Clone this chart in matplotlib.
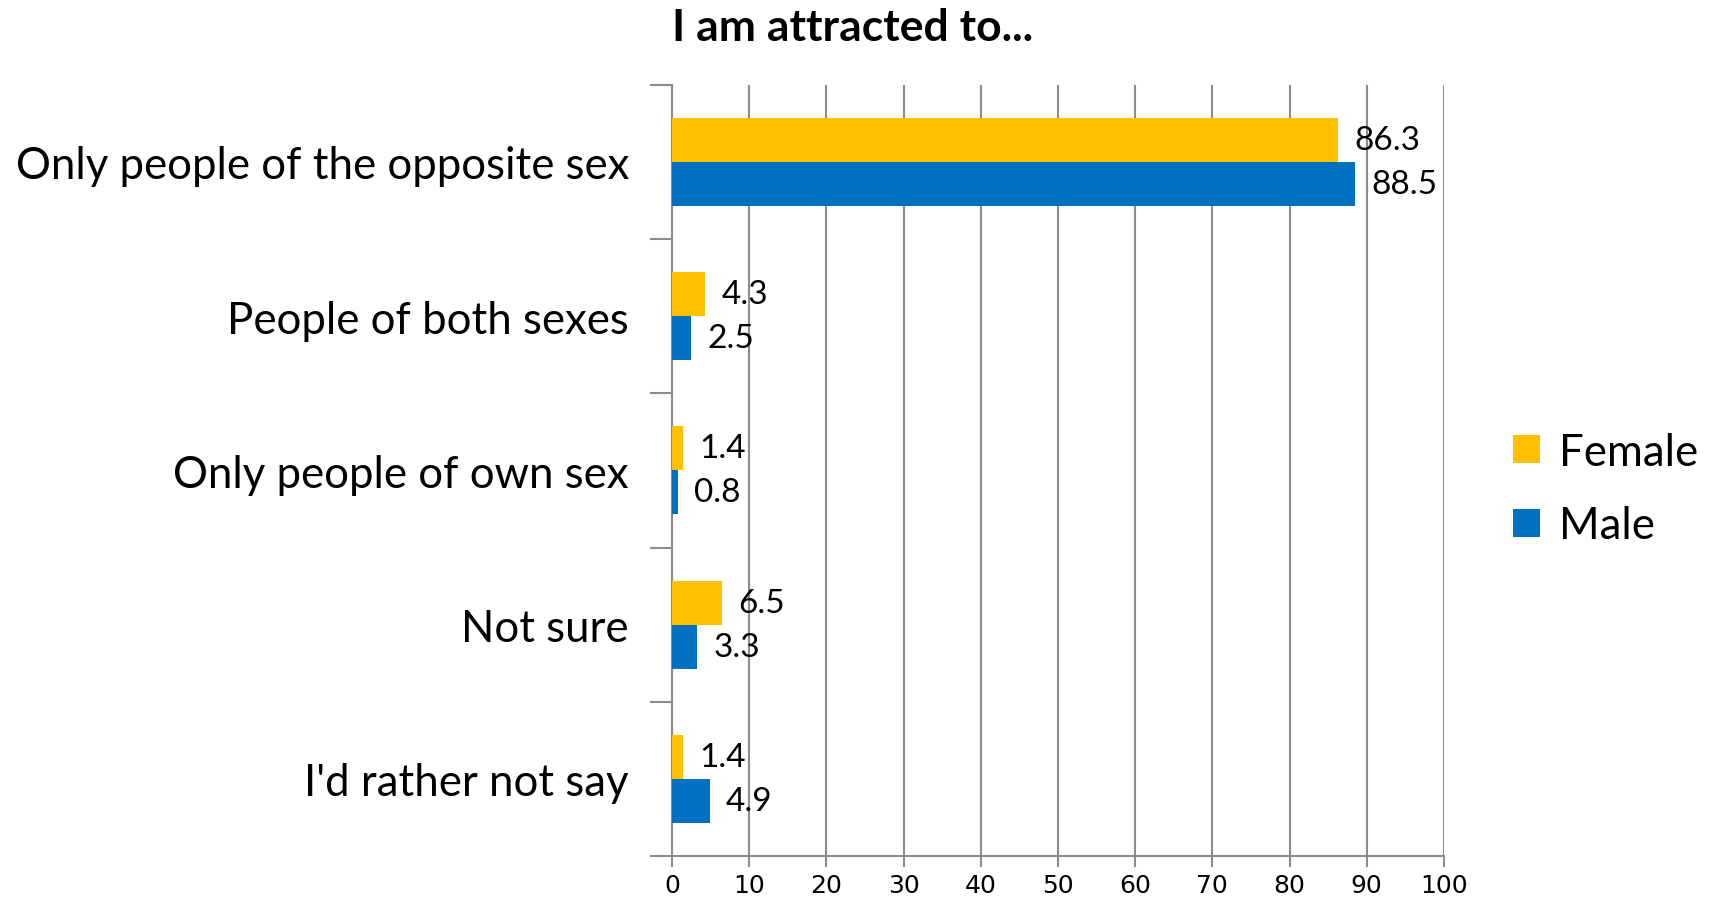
import numpy as np
import matplotlib.pyplot as plt

# categories top to bottom
categorias = ["Only people of the opposite sex", "People of both sexes",
              "Only people of own sex", "Not sure", "I'd rather not say"]
female = [86.3, 4.3, 1.4, 6.5, 1.4]
male = [88.5, 2.5, 0.8, 3.3, 4.9]
ticks_x = [0, 10, 20, 30, 40, 50, 60, 70, 80, 90, 100]

color_f = "#FFC000"
color_m = "#0070C0"
gris = "#8C8C8C"
fuente = ["Lato", "DejaVu Sans"]

plt.rcParams['font.family'] = fuente

fig = plt.figure(figsize=(17.09, 9.04), dpi=100)
ax = fig.add_axes([0.3932, 0.052, 0.4517, 0.853])

n = len(categorias)
y = np.arange(n)
alto = 0.285
ax.barh(y - alto / 2, female, height=alto, color=color_f, label="Female", zorder=3)
ax.barh(y + alto / 2, male, height=alto, color=color_m, label="Male", zorder=3)

for i in range(n):
	ax.text(female[i] + 2.1, y[i] - alto / 2, "%.1f" % female[i], va="center",
	        ha="left", fontsize=24, zorder=4)
	ax.text(male[i] + 2.1, y[i] + alto / 2, "%.1f" % male[i], va="center",
	        ha="left", fontsize=24, zorder=4)

ax.set_xlim(0, 100)
ax.set_ylim(n - 0.5, -0.5)
ax.set_xticks(ticks_x)
ax.set_xticklabels([str(t) for t in ticks_x], family=["Liberation Sans Narrow", "DejaVu Sans"],
                   fontsize=18)
ax.set_yticks(np.arange(n + 1) - 0.5, minor=False)
ax.set_yticklabels([""] * (n + 1))
ax.set_yticks(y, minor=True)
ax.set_yticklabels(categorias, minor=True, fontsize=31.5)
ax.tick_params(axis="y", which="minor", length=0, pad=31)
ax.tick_params(axis="y", which="major", length=16, width=1.5, color=gris)
ax.tick_params(axis="x", length=8, width=1.5, color=gris, pad=4)

ax.grid(axis="x", color=gris, linewidth=1.5, zorder=0)
for lado in ["top", "right"]:
	ax.spines[lado].set_visible(False)
for lado in ["left", "bottom"]:
	ax.spines[lado].set_color(gris)
	ax.spines[lado].set_linewidth(1.5)

ax.set_title("I am attracted to...", fontsize=32, fontweight="bold", loc="left",
             x=0.0, pad=32)

leg = fig.legend(loc="center left", bbox_to_anchor=(0.862, 0.458), frameon=False,
                 fontsize=31.5, handlelength=0.62, handleheight=0.62, handletextpad=0.45,
                 labelspacing=0.75)

fig.savefig("out.png", dpi=100)
